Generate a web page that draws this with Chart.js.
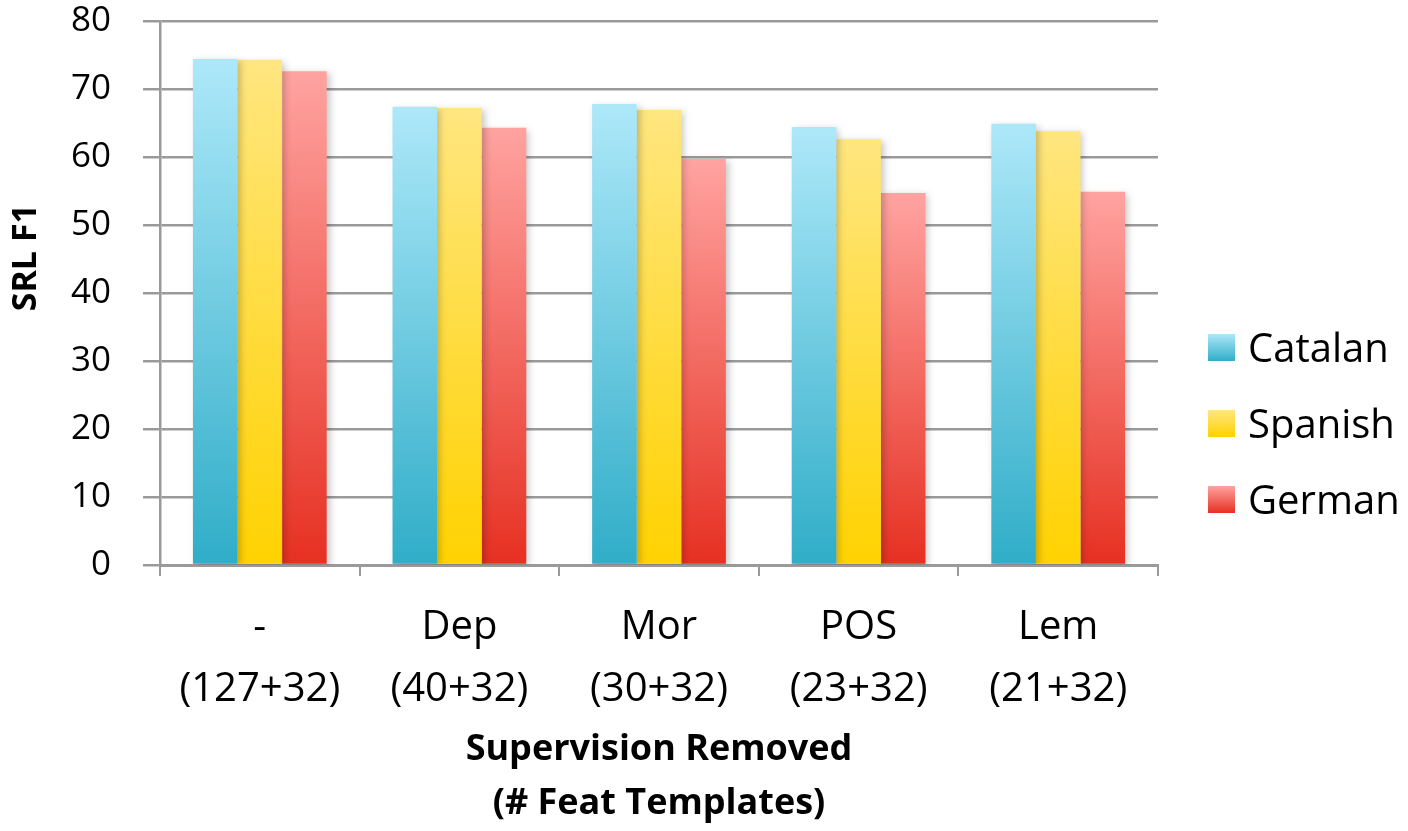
<!DOCTYPE html>
<html>
<head>
<meta charset="utf-8">
<script src="https://cdn.jsdelivr.net/npm/chart.js@4"></script>
<style>
  body { margin: 0; background: #fff; font-family: "Open Sans", sans-serif; }
  #wrap { position: relative; width: 1408px; height: 831px; }
  #legend { position: absolute; left: 1208px; top: 334px; }
  .item { position: relative; height: 76px; }
  .box { position: absolute; left: 0; top: 0; width: 27px; height: 27px; }
  .lbl { position: absolute; left: 40px; top: -15px; font-size: 40px; line-height: 56px; color: #000; white-space: nowrap; }
</style>
</head>
<body>
<div id="wrap">
  <canvas id="srlChart"></canvas>
  <div id="legend"></div>
</div>
<script>
const categories = [['-', '(127+32)'], ['Dep', '(40+32)'], ['Mor', '(30+32)'], ['POS', '(23+32)'], ['Lem', '(21+32)']];
const seriesNames = ['Catalan', 'Spanish', 'German'];
const catalan = [74.4, 67.4, 67.8, 64.4, 64.9];
const spanish = [74.3, 67.2, 66.9, 62.6, 63.8];
const german = [72.6, 64.3, 59.7, 54.7, 54.9];
const yTicks = [0, 10, 20, 30, 40, 50, 60, 70, 80];

// top / bottom colour of each bar gradient
const colorsTop = ['#ade8f9', '#ffe680', '#ffa3a0'];
const colorsBottom = ['#30adc8', '#ffd200', '#e63022'];

function barGradient(i) {
    return function (context) {
        const chart = context.chart;
        const y = chart.scales && chart.scales.y;
        if (!chart.chartArea || !y || context.raw === undefined) return colorsBottom[i];
        const top = y.getPixelForValue(context.raw);
        const bottom = y.getPixelForValue(0);
        const g = chart.ctx.createLinearGradient(0, top, 0, bottom);
        g.addColorStop(0, colorsTop[i]);
        g.addColorStop(1, colorsBottom[i]);
        return g;
    };
}

const shadowPlugin = {
    id: 'barShadow',
    beforeDatasetsDraw(chart) {
        const ctx = chart.ctx;
        ctx.save();
        ctx.shadowColor = 'rgba(0,0,0,0.22)';
        ctx.shadowBlur = 7;
        ctx.shadowOffsetX = 3;
        ctx.shadowOffsetY = 2;
    },
    afterDatasetsDraw(chart) {
        chart.ctx.restore();
    }
};

const values = [catalan, spanish, german];
const gray = '#9a9a9a';

new Chart(document.getElementById('srlChart'), {
    type: 'bar',
    data: {
        labels: categories,
        datasets: seriesNames.map((name, i) => ({
            label: name,
            data: values[i],
            backgroundColor: barGradient(i),
            borderWidth: 0,
            barPercentage: 1,
            categoryPercentage: 0.67
        }))
    },
    options: {
        responsive: true,
        maintainAspectRatio: false,
        animation: false,
        layout: { padding: { top: 0, right: 250, left: 0, bottom: 0 } },
        plugins: {
            legend: { display: false },
            tooltip: { enabled: false }
        },
        scales: {
            x: {
                afterFit: scale => { scale.height = 266; },
                grid: { drawOnChartArea: false, color: gray, lineWidth: 2, tickLength: 11, offset: true },
                border: { color: gray, width: 3 },
                ticks: {
                    color: '#000',
                    padding: 21,
                    font: { family: 'Open Sans', size: 40, lineHeight: 1.55 }
                },
                title: {
                    display: true,
                    text: ['Supervision Removed', '(# Feat Templates)'],
                    color: '#000',
                    padding: { top: 0, bottom: 0 },
                    font: { family: 'Open Sans', size: 36, weight: 'bold', lineHeight: 1.5 }
                }
            },
            y: {
                min: 0,
                max: 80,
                afterFit: scale => {
                    scale.width = 160;
                    scale.paddingTop = 21;
                    scale.paddingBottom = 0;
                },
                afterBuildTicks: scale => { scale.ticks = yTicks.map(v => ({ value: v })); },
                grid: { color: gray, lineWidth: 2.5, tickLength: 17 },
                border: { color: gray, width: 2.5 },
                ticks: {
                    color: '#000',
                    padding: 32,
                    font: { family: 'Open Sans', size: 35 }
                },
                title: {
                    display: true,
                    text: '\u00a0\u00a0\u00a0\u00a0\u00a0\u00a0\u00a0\u00a0SRL F1',
                    color: '#000',
                    padding: { top: 6, bottom: 0 },
                    font: { family: 'Open Sans', size: 34, weight: 'bold' }
                }
            }
        }
    },
    plugins: [shadowPlugin]
});

// legend built from the same series arrays
const legend = document.getElementById('legend');
seriesNames.forEach((name, i) => {
    const item = document.createElement('div');
    item.className = 'item';
    item.innerHTML = '<div class="box" style="background:linear-gradient(' + colorsTop[i] + ',' + colorsBottom[i] + ')"></div>' +
        '<div class="lbl">' + name + '</div>';
    legend.appendChild(item);
});
</script>
</body>
</html>
